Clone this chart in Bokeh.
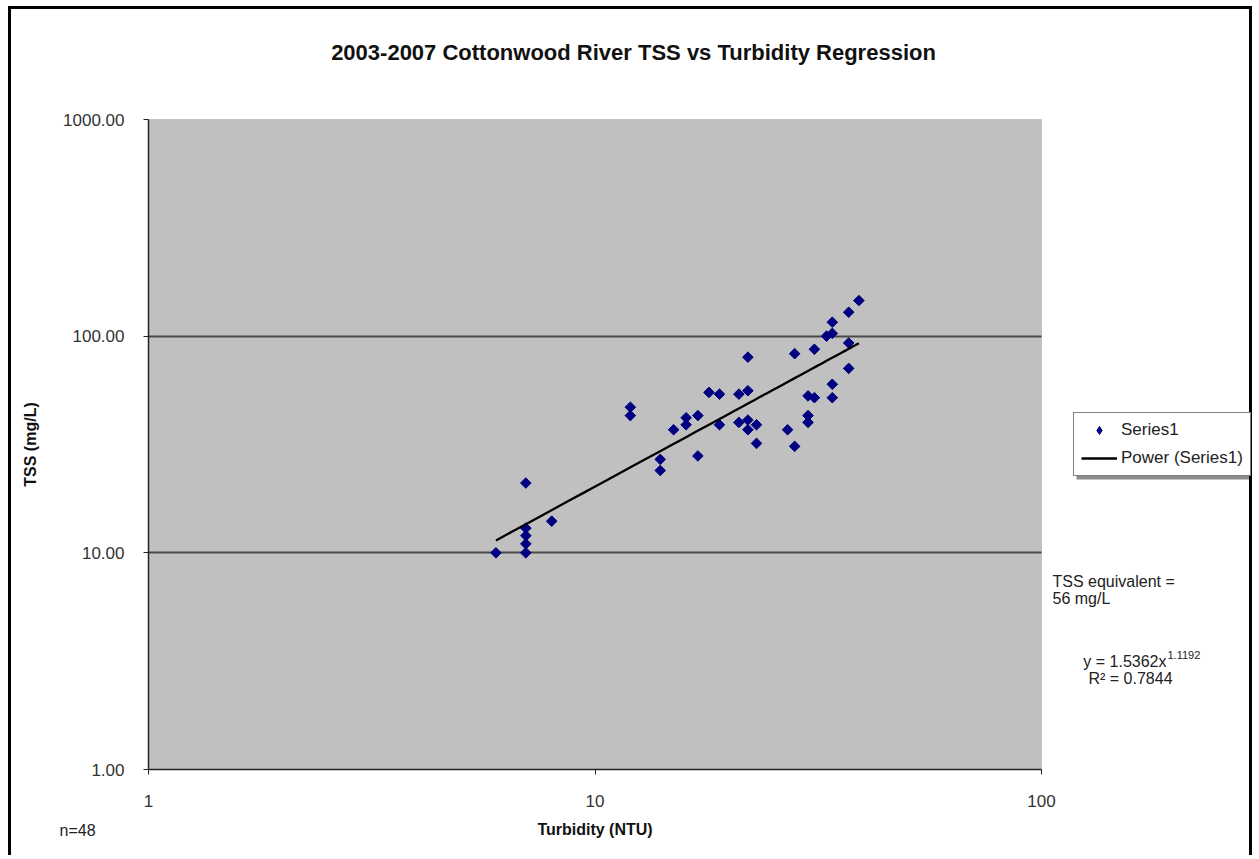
import numpy as np
from bokeh.plotting import figure
from bokeh.models import (Label, Legend, LegendItem, FixedTicker, Range1d,
                          PrintfTickFormatter, ColumnDataSource, BoxAnnotation)
from bokeh.embed import file_html
from bokeh.resources import INLINE

# ---- data ----
turbidity = [6, 7, 7, 7, 7, 7, 8, 12, 12, 14, 14, 15, 16, 16, 17, 17, 18,
             19, 19, 21, 21, 22, 22, 22, 22, 23, 23, 27, 28, 28, 30, 30, 30,
             31, 31, 33, 34, 34, 34, 34, 37, 37, 37, 39]
tss = [10, 10, 11, 12, 13, 21, 14, 47, 43, 27, 24, 37, 42, 39, 43, 28, 55,
       54, 39, 54, 40, 80, 56, 41, 37, 39, 32, 37, 31, 83, 53, 43, 40,
       52, 87, 100, 103, 60, 52, 116, 93, 71, 129, 146]
fit_a = 1.5362
fit_b = 1.1192
r_squared = 0.7844
n_samples = 48
x_ticks = [1, 10, 100]
y_ticks = [1, 10, 100, 1000]
grid_ticks = [10, 100]

FONT = "Liberation Sans"

# ---- layout geometry (page pixels) ----
CX0, CY0 = 11, 9          # canvas origin on the page
W, H = 1244, 849          # canvas size
PL, PR, PT, PB = 148, 1041, 119, 769   # grey plot area
xdec = (PR - PL) / (np.log10(x_ticks[-1]) - np.log10(x_ticks[0]))
ydec = (PB - PT) / (np.log10(y_ticks[-1]) - np.log10(y_ticks[0]))

def dx(px):
    return x_ticks[0] * 10 ** ((px - PL) / xdec)

def dy(py):
    return y_ticks[0] * 10 ** ((PB - py) / ydec)

p = figure(width=W, height=H, x_axis_type="log", y_axis_type="log",
           x_range=Range1d(dx(CX0), dx(CX0 + W)),
           y_range=Range1d(dy(CY0 + H), dy(CY0)),
           output_backend="svg", toolbar_location=None, min_border=0,
           background_fill_color="white", border_fill_color="white")
p.title.visible = False
p.outline_line_color = None
p.styles = {"margin-left": "8px", "margin-top": "6px",
            "border-top": "3px solid black", "border-left": "3px solid black",
            "border-right": "3px solid black"}

# grey plotting area
box = BoxAnnotation(left=x_ticks[0], right=x_ticks[-1],
                    bottom=y_ticks[0], top=y_ticks[-1],
                    fill_color="#C0C0C0", fill_alpha=1,
                    line_color="#808080", line_width=1, level="underlay")
p.center = [box] + list(p.center)

# axes
p.xaxis.ticker = FixedTicker(ticks=x_ticks)
p.yaxis.ticker = FixedTicker(ticks=y_ticks)
p.xaxis.formatter = PrintfTickFormatter(format="%d")
p.yaxis.formatter = PrintfTickFormatter(format="%.2f")
p.xaxis.fixed_location = y_ticks[0]
p.yaxis.fixed_location = x_ticks[0]
p.xaxis.bounds = (x_ticks[0], x_ticks[-1])
p.yaxis.bounds = (y_ticks[0], y_ticks[-1])
for ax in (p.xaxis, p.yaxis):
    ax.axis_line_color = "#222222"
    ax.axis_line_width = 1.5
    ax.major_tick_line_color = "#222222"
    ax.major_tick_in = 0
    ax.major_tick_out = 5
    ax.minor_tick_line_color = None
    ax.major_label_text_font = FONT
    ax.major_label_text_font_size = "17px"
    ax.major_label_text_color = "#333333"
    ax.axis_label_text_font = FONT
    ax.axis_label_text_font_style = "bold"
    ax.axis_label_text_font_size = "16px"
    ax.axis_label_text_color = "#111111"
p.xaxis.axis_label = "Turbidity (NTU)"
p.yaxis.axis_label = "TSS (mg/L)"
p.yaxis.major_label_standoff = 19
p.xaxis.major_label_standoff = 20
p.yaxis.axis_label_standoff = 21
p.xaxis.axis_label_standoff = 11

p.xgrid.visible = False
p.ygrid.ticker = FixedTicker(ticks=grid_ticks)
p.ygrid.cross_bounds = (x_ticks[0], x_ticks[-1])
p.ygrid.grid_line_color = "#4a4a4a"
p.ygrid.grid_line_width = 2

# data
src = ColumnDataSource(dict(x=turbidity, y=tss))
pts = p.scatter("x", "y", source=src, marker="square", angle=np.pi / 4,
                size=7.5, fill_color="#000080", line_color="#000080")

xs = np.linspace(min(turbidity), max(turbidity), 60)
trend = p.line(xs, fit_a * xs ** fit_b, line_color="black", line_width=2.3)

# legend swatch: legend glyphs are drawn unrotated, so a diamond marker is
# used; it sits on (and inside) the first data point
swatch = p.scatter(x=turbidity[:1], y=tss[:1], marker="diamond", size=6,
                   fill_color="#000080", line_color="#000080")

# legend shadow
shadow = BoxAnnotation(left=dx(1076), right=dx(1252), top=dy(417),
                       bottom=dy(479), fill_color="#8c8c8c", fill_alpha=1,
                       line_color=None)
p.add_layout(shadow, "center")

legend = Legend(items=[LegendItem(label="Series1", renderers=[swatch]),
                       LegendItem(label="Power (Series1)", renderers=[trend])],
                location=(1073 - CX0, CY0 + H - 476),
                border_line_color="black", border_line_width=1,
                background_fill_color="white", background_fill_alpha=1,
                label_text_font=FONT, label_text_font_size="17px",
                label_text_color="#222222",
                glyph_width=36, glyph_height=20, label_height=20,
                spacing=8, padding=7, label_standoff=4, margin=0)
p.add_layout(legend, "center")

def lab(px, py, text, size="16px", align="left", style="normal", color="#222222"):
    p.add_layout(Label(x=dx(px), y=dy(py), text=text, text_align=align,
                       text_baseline="middle", text_font=FONT,
                       text_font_size=size, text_font_style=style,
                       text_color=color))

lab(633, 52, "2003-2007 Cottonwood River TSS vs Turbidity Regression",
    size="22px", align="center", style="bold", color="#111111")
lab(1052, 581, "TSS equivalent =")
lab(1052, 598, "56 mg/L")
lab(1166, 661, f"y = {fit_a}x", align="right")
lab(1167, 654, f"{fit_b}", size="11px")
lab(1130, 678, f"R\u00b2 = {r_squared}", align="center")
lab(59, 830, f"n={n_samples}")

open("out.html", "w").write(file_html(p, INLINE))
